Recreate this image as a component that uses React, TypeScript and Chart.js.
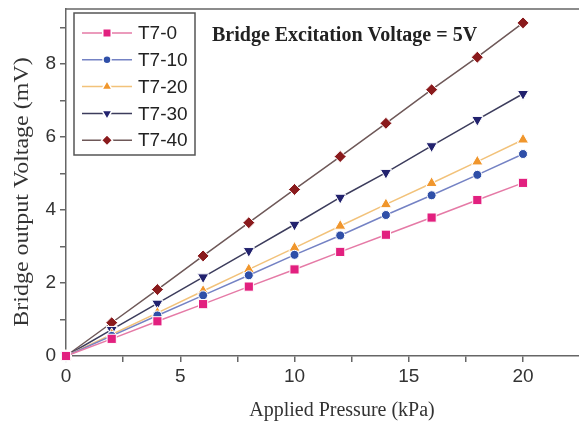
import React, { useEffect, useRef } from 'react';
import { Chart, registerables } from 'chart.js';
import { drawPoint } from 'chart.js/helpers';

Chart.register(...registerables);

// ---- data ----
const pressures = [0, 2, 4, 6, 8, 10, 12, 14, 16, 18, 20];
const seriesNames = ['T7-0', 'T7-10', 'T7-20', 'T7-30', 'T7-40'];
const t7_0 = [0, 0.47, 0.95, 1.42, 1.9, 2.37, 2.85, 3.32, 3.79, 4.27, 4.74];
const t7_10 = [0, 0.55, 1.11, 1.66, 2.21, 2.77, 3.3, 3.86, 4.4, 4.96, 5.53];
const t7_20 = [0, 0.59, 1.18, 1.78, 2.37, 2.96, 3.56, 4.15, 4.73, 5.32, 5.92];
const t7_30 = [0, 0.72, 1.44, 2.16, 2.88, 3.6, 4.34, 5.02, 5.75, 6.47, 7.18];
const t7_40 = [0, 0.91, 1.82, 2.74, 3.65, 4.56, 5.46, 6.37, 7.29, 8.18, 9.12];
const seriesValues = [t7_0, t7_10, t7_20, t7_30, t7_40];
const xTickValues = [0, 2.5, 5, 7.5, 10, 12.5, 15, 17.5, 20];
const xMajorTicks = [0, 5, 10, 15, 20];
const yTickValues = [0, 1, 2, 3, 4, 5, 6, 7, 8, 9];
const yMajorTicks = [0, 2, 4, 6, 8];
const chartTitle = 'Bridge Excitation Voltage = 5V';
const xTitle = 'Applied Pressure (kPa)';
const yTitle = 'Bridge output Voltage (mV)';

// ---- styles ----
const lineColors = ['#e57aa6', '#7482c4', '#f2c27a', '#3c3c5c', '#6e5858'];
const markerColors = ['#e2207f', '#2f4fa8', '#f0962c', '#22226e', '#8a1a1c'];
const pointStyles = ['rect', 'circle', 'triangle', 'triangle', 'rectRot'];
const pointRotations = [0, 0, 0, 180, 0];
const pointRadii = [6.5, 4.5, 6.5, 6.5, 6];
const SANS = "Arial, 'Liberation Sans', sans-serif";
const SERIF = "'Times New Roman', 'Liberation Serif', serif";
const AXIS = '#666666';

const framePlugin = {
  id: 'frameAndText',
  afterDraw(chart: any) {
    const { ctx, chartArea: a } = chart;
    ctx.save();
    ctx.strokeStyle = AXIS;
    ctx.lineWidth = 1.5;
    ctx.beginPath();
    ctx.moveTo(a.left, a.top);
    ctx.lineTo(a.right, a.top);
    ctx.stroke();

    ctx.fillStyle = '#222';
    ctx.font = `bold 20px ${SERIF}`;
    ctx.textAlign = 'left';
    ctx.textBaseline = 'alphabetic';
    ctx.fillText(chartTitle, 212, 41);

    ctx.fillStyle = '#333';
    ctx.font = `20px ${SERIF}`;
    ctx.textAlign = 'center';
    ctx.textBaseline = 'middle';
    ctx.fillText(xTitle, 342, 411);
    ctx.save();
    ctx.translate(22, 192);
    ctx.rotate(-Math.PI / 2);
    ctx.scale(1, 0.88);
    ctx.font = `24px ${SERIF}`;
    ctx.fillText(yTitle, 0, 0);
    ctx.restore();

    const bx = 74, by = 13, bw = 121, bh = 142;
    ctx.strokeStyle = '#555';
    ctx.lineWidth = 1.5;
    ctx.fillStyle = '#fff';
    ctx.fillRect(bx, by, bw, bh);
    ctx.strokeRect(bx, by, bw, bh);
    seriesNames.forEach((name, i) => {
      const y = 33 + i * 26.8;
      ctx.strokeStyle = lineColors[i];
      ctx.lineWidth = 1.5;
      ctx.beginPath();
      ctx.moveTo(82, y);
      ctx.lineTo(132, y);
      ctx.stroke();
      ctx.fillStyle = markerColors[i];
      ctx.strokeStyle = '#fff';
      drawPoint(ctx, {
        pointStyle: pointStyles[i],
        rotation: pointRotations[i],
        radius: pointRadii[i] - 0.5,
        borderWidth: 1,
      }, 107, y);
      ctx.fillStyle = '#222';
      ctx.font = `19px ${SANS}`;
      ctx.textAlign = 'left';
      ctx.textBaseline = 'middle';
      ctx.fillText(name, 138, y + 1);
    });
    ctx.restore();
  },
};

export default function App() {
  const ref = useRef<HTMLCanvasElement | null>(null);
  useEffect(() => {
    if (!ref.current) return;
    const chart = new Chart(ref.current, {
      type: 'line',
      data: {
        datasets: seriesNames.map((name, i) => ({
          label: name,
          data: pressures.map((p, j) => ({ x: p, y: seriesValues[i][j] })),
          borderColor: lineColors[i],
          borderWidth: 1.5,
          backgroundColor: markerColors[i],
          pointBackgroundColor: markerColors[i],
          pointBorderColor: '#ffffff',
          pointBorderWidth: 1,
          pointStyle: pointStyles[i] as any,
          pointRotation: pointRotations[i],
          pointRadius: pointRadii[i],
          tension: 0,
          fill: false,
          clip: false as any,
        })),
      },
      options: {
        animation: false,
        responsive: false,
        maintainAspectRatio: false,
        layout: { autoPadding: false, padding: { left: 0, right: 0, top: 9, bottom: 0 } },
        plugins: {
          legend: { display: false },
          title: { display: false },
          tooltip: { enabled: false },
        },
        scales: {
          x: {
            type: 'linear',
            min: 0,
            max: 22.45,
            afterFit: (s: any) => { s.height = 72; s.paddingRight = 0; s.paddingLeft = 0; },
            afterBuildTicks: (s: any) => { s.ticks = xTickValues.map((v) => ({ value: v })); },
            grid: { display: true, drawOnChartArea: false, drawTicks: true, tickLength: 6, color: AXIS, lineWidth: 1.5 },
            border: { display: true, color: AXIS, width: 1.5 },
            ticks: {
              padding: 3,
              color: '#333',
              font: { family: SANS, size: 19 },
              maxRotation: 0,
              autoSkip: false,
              callback: (v: any) => (xMajorTicks.includes(Number(v)) ? String(v) : ''),
            },
          },
          y: {
            type: 'linear',
            min: 0,
            max: 9.5,
            afterFit: (s: any) => { s.width = 66; s.paddingTop = 0; s.paddingBottom = 0; },
            afterBuildTicks: (s: any) => { s.ticks = yTickValues.map((v) => ({ value: v })); },
            grid: { display: true, drawOnChartArea: false, drawTicks: true, tickLength: 6, color: AXIS, lineWidth: 1.5 },
            border: { display: true, color: AXIS, width: 1.5 },
            ticks: {
              padding: 4,
              color: '#333',
              font: { family: SANS, size: 19 },
              autoSkip: false,
              callback: (v: any) => (yMajorTicks.includes(Number(v)) ? String(v) : ''),
            },
          },
        },
      },
      plugins: [framePlugin],
    });
    return () => chart.destroy();
  }, []);
  return (
    <div style={{ position: 'fixed', left: 0, top: 0, width: 579, height: 428, background: '#fff' }}>
      <canvas ref={ref} width={579} height={428} style={{ width: 579, height: 428, display: 'block' }} />
    </div>
  );
}
